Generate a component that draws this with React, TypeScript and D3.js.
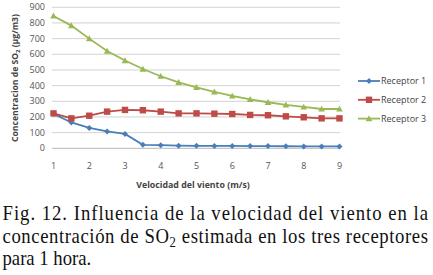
import React from "react";
import * as d3 from "d3";

const speeds = [1, 1.5, 2, 2.5, 3, 3.5, 4, 4.5, 5, 5.5, 6, 6.5, 7, 7.5, 8, 8.5, 9];
const receptor1 = [220, 165, 130, 108, 92, 22, 20, 17, 16, 15, 15, 14, 14, 13, 12, 12, 12];
const receptor2 = [223, 191, 208, 234, 245, 243, 234, 223, 223, 221, 219, 213, 211, 204, 198, 191, 191];
const receptor3 = [845, 783, 700, 621, 560, 506, 460, 421, 389, 360, 334, 313, 294, 277, 264, 251, 251];
const seriesNames = ["Receptor 1", "Receptor 2", "Receptor 3"];
const xTicks = [1, 2, 3, 4, 5, 6, 7, 8, 9];
const yTicks = [0, 100, 200, 300, 400, 500, 600, 700, 800, 900];
const captionLines = [
  "Fig. 12. Influencia de la velocidad del viento en la",
  "concentración de SO",
  "para 1 hora.",
];

const colors = ["#4A7EBB", "#BE4B48", "#98B954"];
const axisFont = "'Open Sans'";
const serifFont = "'Liberation Serif'";

export default function App() {
  const W = 433, H = 275;
  const x = d3.scaleLinear().domain([1, 9]).range([53.5, 339.5]);
  const y = d3.scaleLinear().domain([0, 900]).range([148.3, 7.3]);
  const line = d3
    .line<number>()
    .x((_, i) => x(speeds[i]))
    .y((d) => y(d));
  const data = [receptor1, receptor2, receptor3];

  const marker = (k: number, cx: number, cy: number, key: string) => {
    const c = colors[k];
    if (k === 0) {
      const s = 3;
      return (
        <path key={key} d={`M${cx},${cy - s}L${cx + s},${cy}L${cx},${cy + s}L${cx - s},${cy}Z`} fill={c} />
      );
    }
    if (k === 1) {
      const s = 3.2;
      return <rect key={key} x={cx - s} y={cy - s} width={2 * s} height={2 * s} fill={c} />;
    }
    const s = 3.3;
    return (
      <path key={key} d={`M${cx},${cy - s}L${cx + s},${cy + s * 0.8}L${cx - s},${cy + s * 0.8}Z`} fill={c} />
    );
  };

  const sx = 0.85;
  const capStyle = { fontFamily: serifFont, fontSize: "22px" };

  return (
    <svg width={W} height={H} style={{ position: "absolute", left: 0, top: 0, background: "#fff" }}>
      {yTicks.map((t) => (
        <line key={"g" + t} x1={52} x2={340} y1={y(t)} y2={y(t)} stroke={t === 0 ? "#A6A6A6" : "#C8C8C8"} strokeWidth={0.8} />
      ))}
      {yTicks.map((t) => (
        <text key={"yt" + t} x={45} y={y(t)} dy="0.35em" textAnchor="end" fill="#555" style={{ fontFamily: axisFont, fontSize: "9px" }}>
          {t}
        </text>
      ))}
      {xTicks.map((t) => (
        <text key={"xt" + t} x={x(t)} y={166} dy="0.35em" textAnchor="middle" fill="#555" style={{ fontFamily: axisFont, fontSize: "9px" }}>
          {t}
        </text>
      ))}
      <text x={193} y={185} dy="0.35em" textAnchor="middle" fontWeight="bold" fill="#444" style={{ fontFamily: axisFont, fontSize: "8.8px" }}>
        Velocidad del viento (m/s)
      </text>
      <text
        transform={`translate(15,78) rotate(-90)`}
        textAnchor="middle"
        dy="0.35em"
        fontWeight="bold"
        fill="#444"
        style={{ fontFamily: axisFont, fontSize: "8.6px" }}
      >
        Concentracion de SO<tspan style={{ fontSize: "6px" }} dy="2">2</tspan>
        <tspan dy="-2"> (µg/m3)</tspan>
      </text>
      {data.map((d, k) => (
        <g key={"s" + k}>
          <path d={line(d) || ""} fill="none" stroke={colors[k]} strokeWidth={1.8} />
          {d.map((v, i) => marker(k, x(speeds[i]), y(v), `m${k}-${i}`))}
        </g>
      ))}
      {seriesNames.map((n, k) => {
        const ly = 81 + k * 18.8;
        return (
          <g key={"l" + k}>
            <line x1={358} x2={380} y1={ly} y2={ly} stroke={colors[k]} strokeWidth={1.8} />
            {marker(k, 369, ly, "lm" + k)}
            <text x={381} y={ly} dy="0.35em" fill="#444" style={{ fontFamily: axisFont, fontSize: "9px" }}>
              {n}
            </text>
          </g>
        );
      })}
      <g transform={`scale(${sx},1)`} fill="#111">
        <text x={2.5 / sx} y={220} textLength={425.5 / sx} lengthAdjust="spacing" style={capStyle}>
          {captionLines[0]}
        </text>
        <text x={2.5 / sx} y={243} textLength={425.5 / sx} lengthAdjust="spacing" style={capStyle}>
          {captionLines[1]}
          <tspan style={{ fontSize: "15px" }} dy="4">2</tspan>
          <tspan dy="-4"> estimada en los tres receptores</tspan>
        </text>
        <text x={2.5 / sx} y={265} style={capStyle}>
          {captionLines[2]}
        </text>
      </g>
    </svg>
  );
}
